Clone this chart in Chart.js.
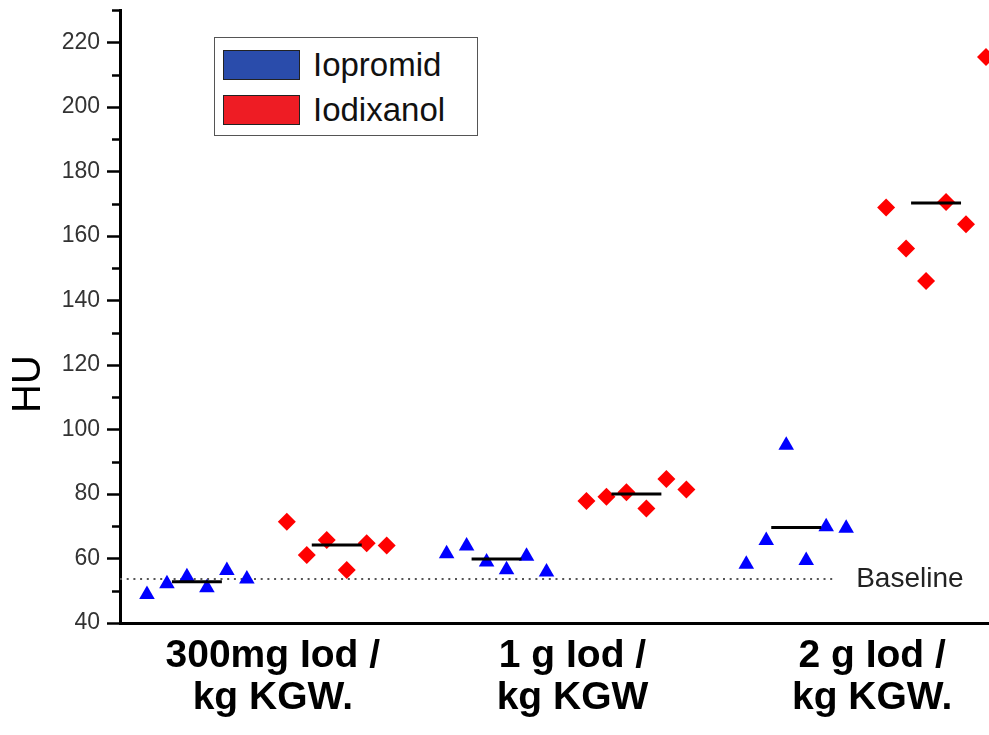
<!DOCTYPE html>
<html>
<head>
<meta charset="utf-8">
<script src="https://cdn.jsdelivr.net/npm/chart.js@4/dist/chart.umd.min.js"></script>
<style>
  body { margin: 0; background: #fff; font-family: 'Liberation Sans', Arial, sans-serif; }
  .chart-wrap { position: relative; width: 989px; height: 735px; }
  .legend {
    position: absolute; left: 214px; top: 37px; width: 262px; height: 97px;
    border: 1.5px solid #555; background: #fff;
  }
  .legend__item { display: flex; align-items: center; height: 45px; margin-left: 8px; }
  .legend__item:first-child { margin-top: 4px; }
  .legend__swatch { width: 75px; height: 28px; border: 1.5px solid #222; margin-right: 13px; }
  .legend__text { font-size: 33px; color: #111; }
</style>
</head>
<body>
<div class="chart-wrap">
  <canvas id="chart"></canvas>
  <div id="legendContainer" class="legend"></div>
</div>
<script>
// groups on the x axis
const groupLabels = [
  ['300mg Iod /', 'kg KGW.'],
  ['1 g Iod /', 'kg KGW'],
  ['2 g Iod /', 'kg KGW.'],
];

const seriesNames = ['Iopromid', 'Iodixanol'];

// HU values, one row per group (6 animals each)
const iopromid = [
  [48.8, 52.2, 54.3, 50.9, 56.3, 53.6],
  [61.5, 63.9, 58.9, 56.5, 60.7, 55.8],
  [58.2, 65.6, 95.1, 59.4, 69.8, 69.4],
];
const iodixanol = [
  [71.4, 61.1, 65.7, 56.4, 64.7, 64.0],
  [77.8, 79.1, 80.5, 75.5, 84.6, 81.4],
  [168.8, 156.1, 146.0, 170.5, 163.6, 215.4],
];

// group means (horizontal bars)
const iopromidMean = [52.8, 59.8, 69.6];
const iodixanolMean = [64.2, 80.0, 170.2];

const baselineValue = 53.6;
const yTicks = [40, 60, 80, 100, 120, 140, 160, 180, 200, 220];

// layout of the strip inside each group
const slot = 1 / 15;
const baselineEnd = 2.9;
const xMin = 0.51;
const xMax = 3.41;

const fontFamily = "'Liberation Sans', Arial, sans-serif";

function stripPoints(rows, side) {
  const pts = [];
  rows.forEach((row, g) => {
    row.forEach((v, i) => {
      const off = side < 0 ? -(row.length - i) * slot : (i + 1) * slot;
      pts.push({ x: g + 1 + off, y: v });
    });
  });
  return pts;
}

function meanSegments(means, side) {
  const pts = [];
  const c = side * 3.5 * slot;
  const h = 1.25 * slot;
  means.forEach((m, g) => {
    pts.push({ x: g + 1 + c - h, y: m });
    pts.push({ x: g + 1 + c + h, y: m });
    pts.push({ x: g + 1 + c + h, y: null });
  });
  return pts;
}

function noPadding(scale) {
  scale.paddingTop = 0;
  scale.paddingBottom = 0;
  scale.paddingLeft = 0;
  scale.paddingRight = 0;
}

// minor/major tick marks, y title and baseline label
const extras = {
  id: 'extras',
  afterDraw(chart) {
    const { ctx, scales: { x, y } } = chart;
    ctx.save();
    ctx.strokeStyle = '#000';
    ctx.lineWidth = 2.5;
    for (let v = 40; v <= 230; v += 10) {
      const py = Math.round(y.getPixelForValue(v)) + 0.5;
      const len = yTicks.includes(v) ? 13 : 8;
      ctx.beginPath();
      ctx.moveTo(y.right - len, py);
      ctx.lineTo(y.right, py);
      ctx.stroke();
    }

    ctx.fillStyle = '#222';
    ctx.font = '28px ' + fontFamily;
    ctx.textAlign = 'left';
    ctx.textBaseline = 'middle';
    ctx.fillText('Baseline', x.getPixelForValue(baselineEnd) + 20, y.getPixelForValue(baselineValue));

    ctx.fillStyle = '#000';
    ctx.font = '40px ' + fontFamily;
    ctx.translate(29, 384);
    ctx.rotate(-Math.PI / 2);
    ctx.textAlign = 'center';
    ctx.fillText('HU', 0, 0);
    ctx.restore();
  },
};

const ctx = document.getElementById('chart').getContext('2d');

const chart = new Chart(ctx, {
  type: 'scatter',
  data: {
    datasets: [
      {
        label: 'mean ' + seriesNames[0],
        data: meanSegments(iopromidMean, -1),
        showLine: true,
        borderColor: '#000',
        borderWidth: 3,
        pointRadius: 0,
      },
      {
        label: 'mean ' + seriesNames[1],
        data: meanSegments(iodixanolMean, 1),
        showLine: true,
        borderColor: '#000',
        borderWidth: 3,
        pointRadius: 0,
      },
      {
        label: seriesNames[0],
        data: stripPoints(iopromid, -1),
        pointStyle: 'triangle',
        pointRadius: 9,
        backgroundColor: '#0000ff',
        borderColor: '#0000ff',
        borderWidth: 0,
      },
      {
        label: seriesNames[1],
        data: stripPoints(iodixanol, 1),
        pointStyle: 'rectRot',
        pointRadius: 9,
        backgroundColor: '#ff0000',
        borderColor: '#ff0000',
        borderWidth: 0,
      },
      {
        label: 'Baseline',
        data: [{ x: xMin, y: baselineValue }, { x: baselineEnd, y: baselineValue }],
        showLine: true,
        borderColor: '#555',
        borderWidth: 2,
        borderDash: [2, 4.7],
        pointRadius: 0,
      },
    ],
  },
  options: {
    responsive: true,
    maintainAspectRatio: false,
    animation: false,
    clip: false,
    layout: { autoPadding: false, padding: { top: 10, right: 0, left: 0, bottom: 0 } },
    plugins: {
      legend: { display: false },
      tooltip: { enabled: false },
    },
    scales: {
      x: {
        type: 'linear',
        min: xMin,
        max: xMax,
        afterFit: (scale) => { scale.height = 112; noPadding(scale); },
        afterBuildTicks: (scale) => {
          scale.ticks = groupLabels.map((_, i) => ({ value: i + 1 }));
        },
        grid: { display: false, drawTicks: false },
        border: { display: true, color: '#000', width: 3 },
        ticks: {
          autoSkip: false,
          maxRotation: 0,
          padding: 12,
          labelOffset: 6,
          color: '#000',
          font: { family: fontFamily, size: 39, weight: 'bold', lineHeight: 1.08 },
          callback: (value, index) => groupLabels[index],
        },
      },
      y: {
        min: 40,
        max: 230,
        afterFit: (scale) => { scale.width = 120; noPadding(scale); },
        grid: { display: false, drawTicks: false },
        border: { display: true, color: '#000', width: 3 },
        ticks: {
          stepSize: 10,
          autoSkip: false,
          padding: 20,
          color: '#333',
          font: { family: fontFamily, size: 23 },
          callback: (value) => (yTicks.includes(value) ? value : ''),
        },
      },
    },
  },
  plugins: [extras],
});

const swatches = ['#2a4cab', '#ee1c24'];
document.getElementById('legendContainer').innerHTML = seriesNames
  .map((name, i) => `
    <div class="legend__item">
      <div class="legend__swatch" style="background:${swatches[i]}"></div>
      <div class="legend__text">${name}</div>
    </div>`)
  .join('');
</script>
</body>
</html>
